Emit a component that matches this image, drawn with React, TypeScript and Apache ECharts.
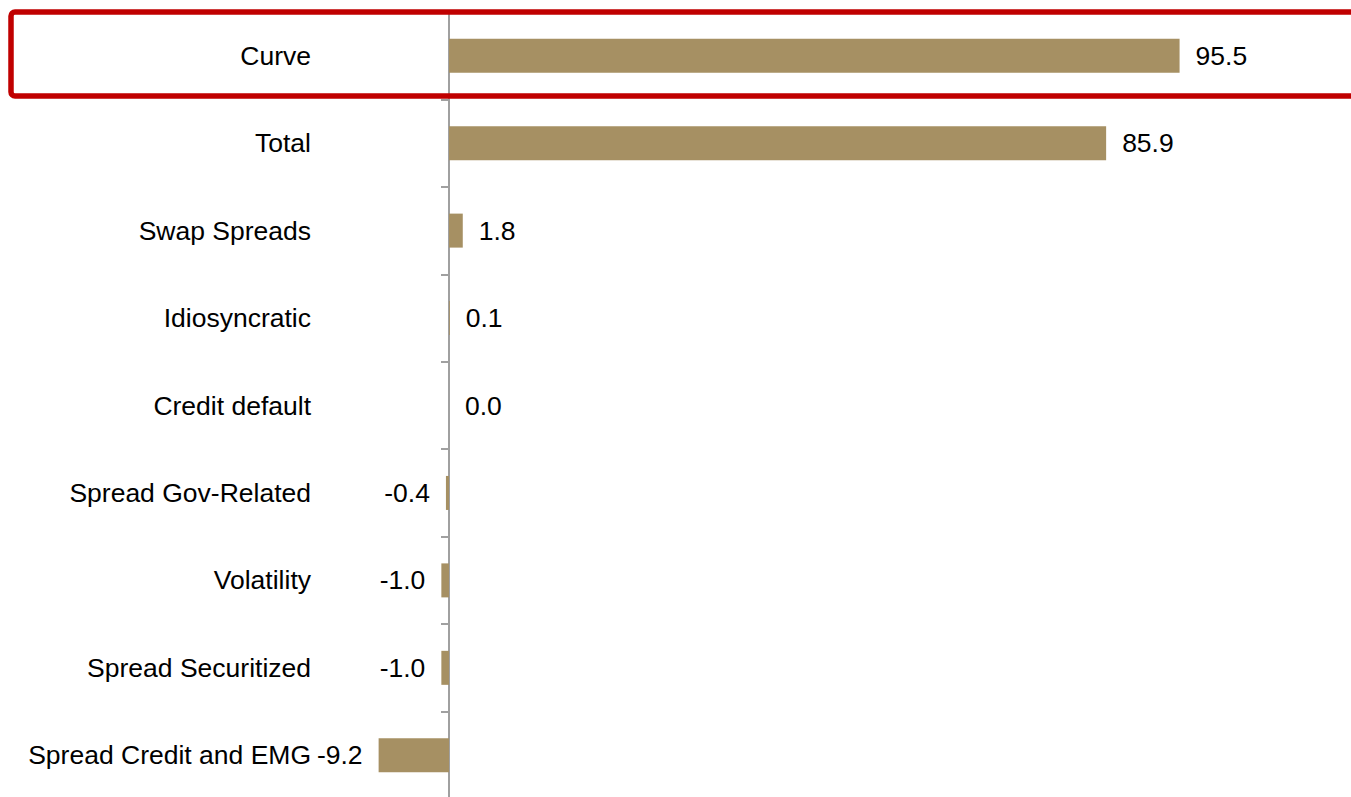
import React, { useEffect, useRef } from "react";
import * as echarts from "echarts";

const categories = [
  "Curve",
  "Total",
  "Swap Spreads",
  "Idiosyncratic",
  "Credit default",
  "Spread Gov-Related",
  "Volatility",
  "Spread Securitized",
  "Spread Credit and EMG",
];
const values = [95.5, 85.9, 1.8, 0.1, 0.0, -0.4, -1.0, -1.0, -9.2];

const FONT = "'Liberation Sans', Arial, Helvetica, sans-serif";

export default function App() {
  const ref = useRef<HTMLDivElement>(null);
  useEffect(() => {
    if (!ref.current) return;
    const chart = echarts.init(ref.current, null, { renderer: "svg" });
    chart.setOption({
      animation: false,
      backgroundColor: "#ffffff",
      grid: {
        left: 296,
        width: 918,
        top: 12,
        height: 787,
        containLabel: false,
        outerBoundsMode: "none",
      },
      xAxis: {
        type: "value",
        min: -20,
        max: 100,
        show: false,
        splitLine: { show: false },
      },
      yAxis: {
        type: "category",
        inverse: true,
        data: categories,
        axisLine: { show: true, onZero: true, lineStyle: { color: "#A0A0A0", width: 2 } },
        axisTick: { show: true, length: 8, alignWithLabel: false, lineStyle: { color: "#A0A0A0", width: 2 } },
        axisLabel: {
          margin: -15,
          color: "#000000",
          fontSize: 26.5,
          fontFamily: FONT,
        },
        splitLine: { show: false },
      },
      series: [
        {
          type: "bar",
          barWidth: 34,
          itemStyle: { color: "#A69063" },
          data: values.map((v) => ({
            value: v,
            label: { position: v < 0 ? "left" : "right" },
          })),
          label: {
            show: true,
            distance: 16,
            color: "#000000",
            fontSize: 26.5,
            fontFamily: FONT,
            formatter: (p: any) => Number(p.value).toFixed(1),
          },
        },
      ],
      graphic: [
        {
          type: "rect",
          z: 100,
          shape: { x: 11, y: 12, width: 1400, height: 84, r: 4 },
          style: { fill: "none", stroke: "#C00000", lineWidth: 5.5 },
        },
      ],
    });
    return () => chart.dispose();
  }, []);
  return (
    <div
      ref={ref}
      style={{ position: "fixed", left: 0, top: 0, width: 1351, height: 797, background: "#fff" }}
    />
  );
}
